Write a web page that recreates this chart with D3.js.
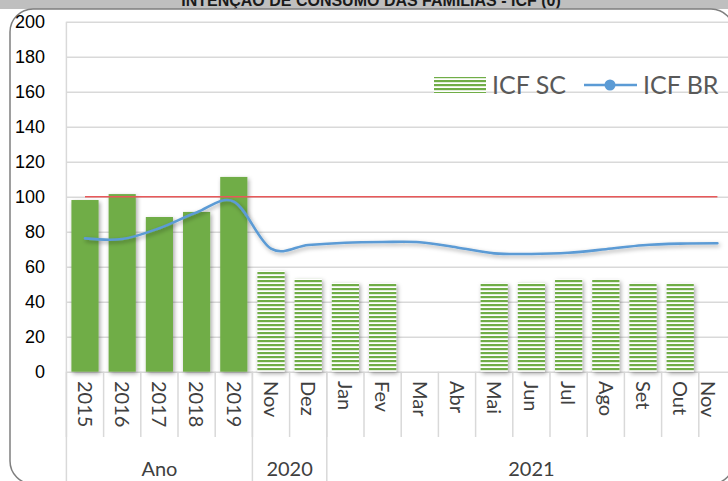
<!DOCTYPE html>
<html>
<head>
<meta charset="utf-8">
<script src="https://cdn.jsdelivr.net/npm/d3@7"></script>
<style>
  html, body { margin: 0; padding: 0; background: #fff; }
  svg { display: block; }
</style>
</head>
<body>
<svg id="chart" width="728" height="481"></svg>
<script>
// Categories (x axis, first level) and their groups (second level)
const categorias = ["2015", "2016", "2017", "2018", "2019", "Nov", "Dez", "Jan", "Fev", "Mar", "Abr", "Mai", "Jun", "Jul", "Ago", "Set", "Out", "Nov"];
const grupoRotulos = ["Ano", "2020", "2021"];
const grupoTamanhos = [5, 2, 11];

// Series
const icfSC = [98.1, 101.5, 88.4, 91.3, 111.3, 57.7, 53.2, 50.9, 50.5, null, null, 50.5, 51.0, 52.8, 52.5, 50.5, 50.3, null];
const icfBR = [76.2, 75.8, 82.0, 91.0, 97.2, 70.3, 72.4, 73.7, 74.1, 74.0, 71.0, 67.6, 67.3, 68.0, 70.0, 72.3, 73.2, 73.4];
const referencia = 100;

// Value axis ticks
const yTicks = [0, 20, 40, 60, 80, 100, 120, 140, 160, 180, 200];

const titulo = "INTENÇÃO DE CONSUMO DAS FAMÍLIAS - ICF (0)";

const svg = d3.select("#chart");
const W = 728, H = 481;
const plot = { left: 66.4, right: 736, top: 21.7, bottom: 371.7 };

const x = d3.scaleBand()
  .domain(d3.range(categorias.length))
  .range([plot.left, plot.right])
  .paddingInner(0.27)
  .paddingOuter(0.135);
const y = d3.scaleLinear().domain([0, 200]).range([plot.bottom, plot.top]);
const cx = i => x(i) + x.bandwidth() / 2;

const defs = svg.append("defs");
const shadow = defs.append("filter").attr("id", "sombra")
  .attr("x", "-30%").attr("y", "-30%").attr("width", "160%").attr("height", "160%");
shadow.append("feDropShadow")
  .attr("dx", 1.5).attr("dy", 2).attr("stdDeviation", 2)
  .attr("flood-color", "#000").attr("flood-opacity", 0.35);

const listras = defs.append("pattern").attr("id", "listras")
  .attr("patternUnits", "userSpaceOnUse").attr("width", 8).attr("height", 4);
listras.append("rect").attr("width", 8).attr("height", 4).attr("fill", "#fff");
listras.append("rect").attr("width", 8).attr("height", 2.2).attr("fill", "#70ad47");

// Background and title band
svg.append("rect").attr("width", W).attr("height", H).attr("fill", "#fff");
svg.append("rect").attr("width", W).attr("height", 9).attr("fill", "#bfbfbf");
svg.append("text")
  .attr("x", 371).attr("y", 6)
  .attr("text-anchor", "middle")
  .attr("font-family", "Liberation Sans, Arial, sans-serif")
  .attr("font-weight", "bold").attr("font-size", 16)
  .attr("fill", "#1a1a1a")
  .text(titulo);

// Chart frame
svg.append("rect")
  .attr("x", 10).attr("y", 9).attr("width", 724).attr("height", 475)
  .attr("rx", 23).attr("ry", 23)
  .attr("fill", "none").attr("stroke", "#7f7f7f").attr("stroke-width", 1.5);

// Gridlines
const grid = svg.append("g")
  .attr("transform", `translate(${plot.left},0)`)
  .call(d3.axisLeft(y).tickValues(yTicks).tickSize(-(plot.right - plot.left)).tickFormat(""));
grid.select(".domain").remove();
grid.selectAll("line").attr("stroke", "#d9d9d9").attr("stroke-width", 1.5);

// Value axis labels
const yAxis = svg.append("g")
  .attr("transform", "translate(45,0)")
  .call(d3.axisLeft(y).tickValues(yTicks).tickSize(0).tickPadding(0));
yAxis.select(".domain").remove();
yAxis.selectAll("text")
  .attr("font-family", "Liberation Sans, Arial, sans-serif")
  .attr("font-size", 18).attr("fill", "#000");

// Category axis: separators
const sep = svg.append("g").attr("stroke", "#d9d9d9").attr("stroke-width", 1.5);
sep.append("line").attr("x1", plot.left).attr("x2", plot.left).attr("y1", plot.top).attr("y2", plot.bottom);
categorias.forEach((c, i) => {
  const xb = x(i) - x.step() * x.paddingInner() / 2;
  sep.append("line").attr("x1", xb).attr("x2", xb).attr("y1", plot.bottom).attr("y2", 437);
});
let acumulado = 0;
const gruposPos = grupoRotulos.map((g, k) => {
  const ini = acumulado;
  acumulado += grupoTamanhos[k];
  return { rotulo: g, ini, fim: acumulado };
});
const borda = i => plot.left + i * x.step();
gruposPos.forEach(g => {
  sep.append("line").attr("x1", borda(g.ini)).attr("x2", borda(g.ini)).attr("y1", plot.bottom).attr("y2", H);
});

// Category labels (rotated); the last one is kept inside the visible frame
svg.append("g").selectAll("text")
  .data(categorias)
  .join("text")
  .attr("transform", (d, i) => `translate(${Math.min(cx(i), 708)},381) rotate(90)`)
  .attr("dy", "0.36em")
  .attr("font-family", "Lato, sans-serif").attr("font-size", 20)
  .attr("fill", "#404040")
  .text(d => d);

svg.append("g").selectAll("text")
  .data(gruposPos)
  .join("text")
  .attr("x", d => (borda(d.ini) + borda(d.fim)) / 2)
  .attr("y", 476)
  .attr("text-anchor", "middle")
  .attr("font-family", "Lato, sans-serif").attr("font-size", 20)
  .attr("fill", "#404040")
  .text(d => d.rotulo);

// Bars: ICF SC
svg.append("g").attr("filter", "url(#sombra)")
  .selectAll("rect")
  .data(icfSC.map((v, i) => ({ v, i })).filter(d => d.v != null))
  .join("rect")
  .attr("x", d => x(d.i))
  .attr("width", x.bandwidth())
  .attr("y", d => y(d.v))
  .attr("height", d => y(0) - y(d.v))
  .attr("fill", d => d.i < grupoTamanhos[0] ? "#70ad47" : "url(#listras)");

// Reference line at 100
svg.append("line")
  .attr("x1", cx(0)).attr("x2", cx(categorias.length - 1))
  .attr("y1", y(referencia)).attr("y2", y(referencia))
  .attr("stroke", "#e8585a").attr("stroke-width", 1.5);

// Line: ICF BR
const linha = d3.line()
  .x((d, i) => cx(i))
  .y(d => y(d))
  .curve(d3.curveCatmullRom.alpha(0));
svg.append("path")
  .datum(icfBR)
  .attr("d", linha)
  .attr("fill", "none")
  .attr("stroke", "#5b9bd5").attr("stroke-width", 2.6)
  .attr("stroke-linecap", "round")
  .attr("filter", "url(#sombra)");

// Legend
const leg = svg.append("g");
leg.append("rect").attr("x", 434).attr("y", 77).attr("width", 52).attr("height", 16).attr("fill", "url(#listras)");
leg.append("text").attr("x", 492).attr("y", 94)
  .attr("font-family", "Lato, sans-serif").attr("font-size", 25).attr("fill", "#595959")
  .text("ICF SC");
leg.append("line").attr("x1", 584).attr("x2", 637).attr("y1", 85).attr("y2", 85)
  .attr("stroke", "#5b9bd5").attr("stroke-width", 2.6);
leg.append("circle").attr("cx", 610).attr("cy", 85).attr("r", 5.5).attr("fill", "#5b9bd5");
leg.append("text").attr("x", 643).attr("y", 94)
  .attr("font-family", "Lato, sans-serif").attr("font-size", 25).attr("fill", "#595959")
  .text("ICF BR");
</script>
</body>
</html>
